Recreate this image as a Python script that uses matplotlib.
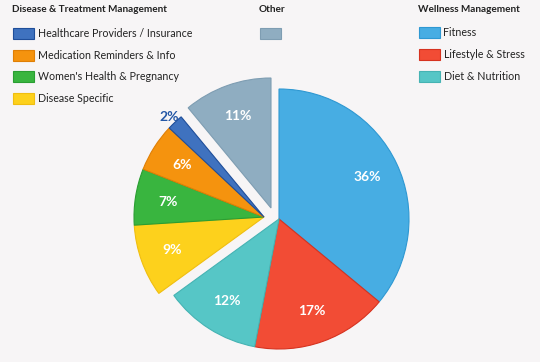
import matplotlib
matplotlib.use("Agg")
import matplotlib.pyplot as plt
from matplotlib.patches import Rectangle

# ---- data ----
labels = ["Fitness", "Lifestyle & Stress", "Diet & Nutrition",
          "Disease Specific", "Women's Health & Pregnancy",
          "Medication Reminders & Info", "Healthcare Providers / Insurance",
          "Other"]
values = [36, 17, 12, 9, 7, 6, 2, 11]
groups = ["wellness", "wellness", "wellness",
          "disease", "disease", "disease", "disease",
          "other"]
colors = ["#47ADE3", "#F24C35", "#56C6C6", "#FDD11C", "#39B53F",
          "#F5930E", "#3F72BF", "#8FADC1"]
edgecolors = ["#2E98D2", "#D6321F", "#45B3B3", "#F0BE10", "#2A9E32",
              "#E07F05", "#1F4E9A", "#7E9DB2"]

disease_legend = ["Healthcare Providers / Insurance", "Medication Reminders & Info",
                  "Women's Health & Pregnancy", "Disease Specific"]
wellness_legend = ["Fitness", "Lifestyle & Stress", "Diet & Nutrition"]

# group offsets in pixels (x right, y up)
offsets = {"wellness": (0, 0), "disease": (-15, 2), "other": (-8, 11)}

W, H = 540, 362
fig = plt.figure(figsize=(5.4, 3.62), dpi=100)
bg = "#F7F5F6"
fig.patch.set_facecolor(bg)
ax = fig.add_axes([0, 0, 1, 1])
ax.set_aspect("equal")
ax.set_facecolor(bg)

FONT = "Lato"
cx, cy = 279, H - 219
R = 130

wedges, texts, autotexts = ax.pie(
    values, colors=colors, startangle=90, counterclock=False,
    center=(cx, cy), radius=R, frame=True,
    autopct=lambda p: f"{p:.0f}%", pctdistance=0.75,
    wedgeprops=dict(linewidth=0.8),
    textprops=dict(color="white", fontsize=10, fontweight="bold", family=FONT))
ax.set_xlim(0, W)
ax.set_ylim(0, H)
ax.axis("off")

for w, t, g, ec, lab in zip(wedges, autotexts, groups, edgecolors, labels):
    dx, dy = offsets[g]
    w.set_center((cx + dx, cy + dy))
    w.set_edgecolor(ec)
    x, y = t.get_position()
    if lab.startswith("Healthcare"):
        # small slice label placed outside
        x = cx + (x - cx) / 0.75 * 1.06
        y = cy + (y - cy) / 0.75 * 1.06
        t.set_color("#2457A6")
    t.set_position((x + dx, y + dy))

# ---- legends ----
def header(x, y, s):
    ax.text(x, H - y, s, fontsize=7.2, fontweight="bold", family=FONT,
            color="#222222", va="center", ha="left")

def item(x, y, label, color, ec):
    ax.add_patch(Rectangle((x, H - y - 5.5), 21, 11, facecolor=color,
                           edgecolor=ec, linewidth=0.8))
    if label:
        ax.text(x + 24.5, H - y, label, fontsize=7.7, family=FONT,
                color="#222222", va="center", ha="left")

lookup = dict(zip(labels, zip(colors, edgecolors)))

header(12, 9, "Disease & Treatment Management")
for i, lab in enumerate(disease_legend):
    c, e = lookup[lab]
    item(13, 33.5 + i * 21.7, lab, c, e)

header(259, 9, "Other")
c, e = lookup["Other"]
item(260, 33, "", c, e)

header(418, 9, "Wellness Management")
for i, lab in enumerate(wellness_legend):
    c, e = lookup[lab]
    item(419, 32.5 + i * 22.2, lab, c, e)

fig.savefig("out.png", dpi=100, facecolor=bg)
